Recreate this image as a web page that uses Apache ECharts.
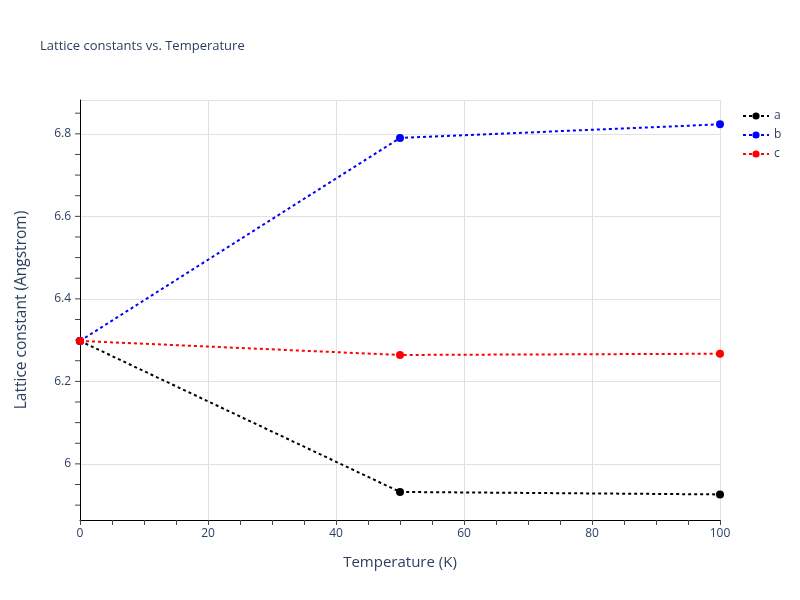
<!DOCTYPE html>
<html><head><meta charset="utf-8">
<script src="https://cdn.jsdelivr.net/npm/echarts@6/dist/echarts.min.js"></script>
<style>html,body{margin:0;padding:0;background:#fff}#c{width:800px;height:600px}</style>
</head><body><div id="c"></div>
<script>
const temps = [0, 50, 100];
const seriesA = [6.298, 5.932, 5.926];
const seriesB = [6.298, 6.790, 6.823];
const seriesC = [6.298, 6.264, 6.267];
const seriesNames = ['a', 'b', 'c'];
const seriesColors = ['#000000', '#0000ff', '#ff0000'];
const yLabelValues = [6, 6.2, 6.4, 6.6, 6.8];
const yTickValues = [5.9, 5.95, 6, 6.05, 6.1, 6.15, 6.2, 6.25, 6.3, 6.35, 6.4, 6.45, 6.5, 6.55, 6.6, 6.65, 6.7, 6.75, 6.8, 6.85];
const yMin = 5.864, yMax = 6.882;
const font = 'Open Sans';
const txt = '#2a3f5f';
const allData = [seriesA, seriesB, seriesC];
const chart = echarts.init(document.getElementById('c'));
const mainSeries = seriesNames.map((n, i) => ({
  name: n, type: 'line', z: 3,
  data: temps.map((t, j) => [t, allData[i][j]]),
  symbol: 'circle', symbolSize: 8,
  itemStyle: {color: seriesColors[i]},
  lineStyle: {color: seriesColors[i], width: 2, type: [3, 3]}
}));
const tickSeries = {
  name: '_yticks', type: 'custom', silent: true, clip: false, z: 2,
  data: yTickValues.map(v => [0, v]),
  encode: {x: 0, y: 1},
  renderItem: (params, api) => {
    const p = api.coord([0, api.value(1)]);
    return {type: 'line', shape: {x1: p[0] - 5, y1: p[1], x2: p[0], y2: p[1]},
      style: {stroke: '#444', lineWidth: 1}};
  }
};
chart.setOption({
  backgroundColor: '#fff',
  animation: false,
  textStyle: {fontFamily: font},
  title: {text: 'Lattice constants vs. Temperature', left: 35, top: 35,
    textStyle: {fontFamily: font, fontSize: 13, fontWeight: 'normal', color: txt}},
  legend: {orient: 'vertical', left: 737, top: 105, itemWidth: 26, itemHeight: 9, itemGap: 7,
    textStyle: {fontFamily: font, fontSize: 12, color: txt}, data: seriesNames},
  grid: {left: 80, right: 80, top: 100, bottom: 80, containLabel: false},
  xAxis: {type: 'value', min: 0, max: 100, interval: 20,
    name: 'Temperature (K)', nameLocation: 'middle', nameGap: 35,
    nameTextStyle: {fontFamily: font, fontSize: 15, color: txt},
    axisLine: {show: true, onZero: false, lineStyle: {color: '#000', width: 1}},
    axisTick: {show: true, length: 5, lineStyle: {color: '#444'}},
    minorTick: {show: true, splitNumber: 4, length: 5, lineStyle: {color: '#444'}},
    axisLabel: {fontFamily: font, fontSize: 12, color: txt, margin: 8},
    splitLine: {show: true, lineStyle: {color: '#e1e1e1', width: 1}}},
  yAxis: {type: 'value', min: yMin, max: yMax,
    name: 'Lattice constant (Angstrom)', nameLocation: 'middle', nameGap: 50,
    nameTextStyle: {fontFamily: font, fontSize: 15.5, color: txt},
    axisLine: {show: true, onZero: false, lineStyle: {color: '#000', width: 1}},
    axisTick: {show: false},
    axisLabel: {fontFamily: font, fontSize: 12, color: txt, margin: 9, customValues: yLabelValues,
      formatter: v => String(Math.round(v * 10) / 10)},
    splitLine: {show: true, lineStyle: {color: '#e1e1e1', width: 1}}},
  series: mainSeries.concat([tickSeries])
});
</script></body></html>
